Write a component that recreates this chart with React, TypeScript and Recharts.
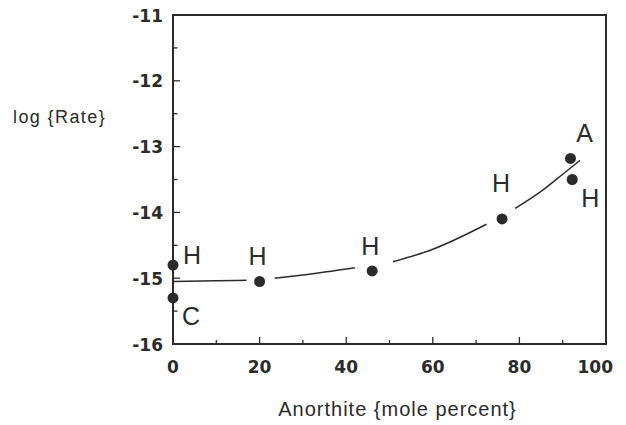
import React from 'react';
import { ComposedChart, XAxis, YAxis, Line, Scatter, ReferenceArea, Label } from 'recharts';

// ---- data ----
const xTicks = [0, 10, 20, 30, 40, 50, 60, 70, 80, 90, 100];
const yTicks = [-16, -15.5, -15, -14.5, -14, -13.5, -13, -12.5, -12, -11.5, -11];

const pointX = [0, 0, 20, 46, 76, 91.8, 92.2];
const pointY = [-14.8, -15.3, -15.05, -14.89, -14.1, -13.18, -13.5];
const pointLabels = ['H', 'C', 'H', 'H', 'H', 'A', 'H'];
const labelPlacement = ['right', 'belowRight', 'above', 'above', 'highAbove', 'aboveRight', 'belowRight'];

// fitted curve as drawn (null = gap in the drawn line)
const curveX = [0, 10, 17, 20, 23.5, 30, 42, 46, 50.8, 60, 72.4, 76, 79, 85, 90, 94];
const curveY: (number | null)[] = [-15.05, -15.04, -15.03, null, -15.0, -14.95, -14.84, null, -14.75, -14.56, -14.18, null, -13.94, -13.68, -13.42, -13.21];

const xTitle = 'Anorthite {mole percent}';
const yTitle = 'log {Rate}';

// ---- styling ----
const INK = '#2b2b2b';
const placementOffsets: Record<string, [number, number]> = {
  right: [19, -1],
  belowRight: [18, 27],
  above: [-2, -16],
  highAbove: [-1, -27],
  aboveRight: [14, -16],
};

const points = pointX.map((x, i) => ({ x, y: pointY[i], label: pointLabels[i], place: labelPlacement[i] }));
const curve = curveX.map((x, i) => ({ x, y: curveY[i] }));

const XTick = (props: any) => {
  const { x, y, payload } = props;
  const v = payload.value;
  const major = v % 20 === 0;
  const last = v === 100;
  return (
    <g>
      <line x1={x} x2={x} y1={y} y2={y - (major ? 7 : 4)} stroke={INK} strokeWidth={1.3} />
      {major && (
        <text
          x={last ? x + 7 : x}
          y={y + 29}
          textAnchor={last ? 'end' : 'middle'}
          fontFamily="DejaVu Sans"
          fontWeight="bold"
          fontSize={17}
          fill={INK}
        >
          {v}
        </text>
      )}
    </g>
  );
};

const YTick = (props: any) => {
  const { x, y, payload } = props;
  const v = payload.value;
  const major = Number.isInteger(v);
  return (
    <g>
      <line x1={x} x2={x + (major ? 7 : 4.5)} y1={y} y2={y} stroke={INK} strokeWidth={1.3} />
      {major && (
        <text x={x - 10} y={y + 6.5} textAnchor="end" fontFamily="DejaVu Sans" fontWeight="bold" fontSize={17} fill={INK}>
          {v}
        </text>
      )}
    </g>
  );
};

const PointShape = (props: any) => {
  const { cx, cy, payload } = props;
  const [dx, dy] = placementOffsets[payload.place] || [0, 0];
  return (
    <g>
      <circle cx={cx} cy={cy} r={5.5} fill={INK} />
      <text
        x={cx + dx}
        y={cy + dy}
        textAnchor="middle"
        fontFamily="Liberation Sans, Arial, sans-serif"
        fontSize={25}
        fill={INK}
      >
        {payload.label}
      </text>
    </g>
  );
};

export default function App() {
  return (
    <div style={{ position: 'absolute', left: 0, top: 0, background: '#fff' }}>
      <ComposedChart width={626} height={425} margin={{ top: 15, right: 20, bottom: 0, left: 0 }}>
        <XAxis
          type="number"
          dataKey="x"
          domain={[0, 100]}
          ticks={xTicks}
          interval={0}
          tickSize={0}
          tickMargin={0}
          axisLine={false}
          tickLine={false}
          tick={<XTick />}
          height={81}
        >
          <Label
            content={(p: any) => {
              const vb = p.viewBox;
              return (
                <text
                  x={vb.x + vb.width / 2 + 8}
                  y={vb.y + 72}
                  textAnchor="middle"
                  fontFamily="Liberation Sans, Arial, sans-serif"
                  fontSize={20}
                  letterSpacing={1}
                  fill={INK}
                >
                  {xTitle}
                </text>
              );
            }}
          />
        </XAxis>
        <YAxis
          type="number"
          dataKey="y"
          domain={[-16, -11]}
          ticks={yTicks}
          interval={0}
          tickSize={0}
          tickMargin={0}
          axisLine={false}
          tickLine={false}
          tick={<YTick />}
          width={173}
        >
          <Label
            content={(p: any) => {
              const vb = p.viewBox;
              return (
                <text
                  x={13}
                  y={vb.y + 108}
                  textAnchor="start"
                  fontFamily="Liberation Sans, Arial, sans-serif"
                  fontSize={18}
                  letterSpacing={1.4}
                  fill={INK}
                >
                  {yTitle}
                </text>
              );
            }}
          />
        </YAxis>
        <ReferenceArea x1={0} x2={100} y1={-16} y2={-11} fill="none" fillOpacity={0} stroke={INK} strokeWidth={2} />
        <Line
          data={curve}
          dataKey="y"
          type="monotone"
          stroke={INK}
          strokeWidth={1.5}
          dot={false}
          activeDot={false}
          connectNulls={false}
          isAnimationActive={false}
        />
        <Scatter data={points} dataKey="y" shape={<PointShape />} isAnimationActive={false} />
      </ComposedChart>
    </div>
  );
}
